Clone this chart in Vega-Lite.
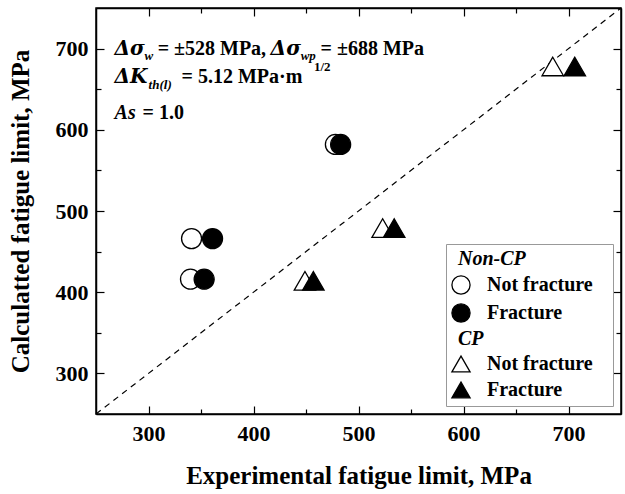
{
  "$schema": "https://vega.github.io/schema/vega-lite/v6.json",
  "width": 525,
  "height": 406,
  "autosize": {"type": "none"},
  "padding": {"left": 96, "top": 8, "right": 4, "bottom": 80},
  "background": "white",
  "config": {
    "view": {"stroke": "black", "strokeWidth": 1.5},
    "font": "Liberation Serif",
    "text": {"font": "Liberation Serif"},
    "axis": {
      "grid": false,
      "labelFont": "Liberation Serif",
      "labelFontSize": 22,
      "labelFontWeight": "bold",
      "labelColor": "black",
      "titleFont": "Liberation Serif",
      "titleFontSize": 25,
      "titleFontWeight": "bold",
      "titleColor": "black",
      "domainColor": "black",
      "domainWidth": 1.5,
      "tickColor": "black",
      "tickWidth": 1.2
    },
    "legend": {
      "labelFont": "Liberation Serif",
      "labelFontSize": 20,
      "labelFontWeight": "bold",
      "labelColor": "black"
    }
  },
  "datasets": {
    "points": [
      {"exp": 341, "calc": 466, "series": "Non-CP: Not fracture"},
      {"exp": 340, "calc": 416, "series": "Non-CP: Not fracture"},
      {"exp": 478, "calc": 582, "series": "Non-CP: Not fracture"},
      {"exp": 361, "calc": 466, "series": "Non-CP: Fracture"},
      {"exp": 353, "calc": 416, "series": "Non-CP: Fracture"},
      {"exp": 483, "calc": 582, "series": "Non-CP: Fracture"},
      {"exp": 449, "calc": 414, "series": "CP: Not fracture"},
      {"exp": 523, "calc": 479, "series": "CP: Not fracture"},
      {"exp": 685, "calc": 678, "series": "CP: Not fracture"},
      {"exp": 457, "calc": 414, "series": "CP: Fracture"},
      {"exp": 534, "calc": 479, "series": "CP: Fracture"},
      {"exp": 706, "calc": 678, "series": "CP: Fracture"}
    ]
  },
  "resolve": {"axis": {"x": "independent", "y": "independent"}},
  "layer": [
    {
      "data": {"values": [{}]},
      "mark": {"type": "rule", "strokeDash": [6, 5], "strokeWidth": 1.2, "color": "black"},
      "encoding": {
        "x": {"datum": 250, "type": "quantitative", "scale": {"domain": [250, 750], "nice": false, "zero": false},
          "axis": {"orient": "top", "values": [300, 350, 400, 450, 500, 550, 600, 650, 700], "labels": false, "title": null,
            "tickSize": {"condition": {"test": "datum.value % 100 === 0", "value": -8}, "value": -5}}},
        "y": {"datum": 250, "type": "quantitative", "scale": {"domain": [250, 750], "nice": false, "zero": false},
          "axis": {"orient": "right", "values": [300, 350, 400, 450, 500, 550, 600, 650, 700], "labels": false, "title": null,
            "tickSize": {"condition": {"test": "datum.value % 100 === 0", "value": -8}, "value": -5}}},
        "x2": {"datum": 750},
        "y2": {"datum": 750}
      }
    },
    {
      "data": {"name": "points"},
      "transform": [{"filter": "indexof(datum.series, 'Non-CP') === 0"}],
      "mark": {"type": "point", "filled": true, "stroke": "black", "strokeWidth": 1.3, "opacity": 1, "size": 400},
      "encoding": {
        "x": {"field": "exp", "type": "quantitative", "scale": {"domain": [250, 750], "nice": false, "zero": false},
          "axis": {"orient": "bottom", "values": [300, 350, 400, 450, 500, 550, 600, 650, 700],
            "labelExpr": "datum.value % 100 === 0 ? datum.label : ''",
            "tickSize": {"condition": {"test": "datum.value % 100 === 0", "value": -8}, "value": -5},
            "labelPadding": 17, "title": "Experimental fatigue limit, MPa", "titlePadding": 19}},
        "y": {"field": "calc", "type": "quantitative", "scale": {"domain": [250, 750], "nice": false, "zero": false},
          "axis": {"orient": "left", "values": [300, 350, 400, 450, 500, 550, 600, 650, 700],
            "labelExpr": "datum.value % 100 === 0 ? datum.label : ''",
            "tickSize": {"condition": {"test": "datum.value % 100 === 0", "value": -8}, "value": -5},
            "labelPadding": 16, "title": "Calculatted fatigue limit, MPa", "titlePadding": 22}},
        "fill": {"field": "series", "type": "nominal",
          "scale": {"domain": ["Non-CP", "Non-CP: Not fracture", "Non-CP: Fracture", "CP", "CP: Not fracture", "CP: Fracture"],
                    "range": ["white", "white", "black", "white", "white", "black"]},
          "legend": null},
        "shape": {"field": "series", "type": "nominal",
          "scale": {"domain": ["Non-CP", "Non-CP: Not fracture", "Non-CP: Fracture", "CP", "CP: Not fracture", "CP: Fracture"],
                    "range": ["M0,0", "circle", "circle", "M0,0", "triangle-up", "triangle-up"]},
          "legend": {"orient": "bottom-right", "offset": 8, "title": null, "padding": 5, "strokeColor": "#999999", "fillColor": "white",
            "symbolSize": 330, "symbolStrokeColor": "black", "symbolStrokeWidth": 1.3, "symbolOpacity": 1,
            "symbolFillColor": {"expr": "indexof(datum.value, 'Not') >= 0 ? 'white' : 'black'"},
            "labelFont": "Liberation Serif", "labelFontSize": 20, "labelFontWeight": "bold", "labelColor": "black",
            "labelFontStyle": {"expr": "indexof(datum.value, ':') < 0 ? 'italic' : 'normal'"},
            "labelOffset": {"expr": "indexof(datum.value, ':') < 0 ? -13 : 16"},
            "rowPadding": 4, "labelLimit": 300,
            "labelExpr": "indexof(datum.label, ': ') >= 0 ? split(datum.label, ': ')[1] + '\u00a0\u00a0\u00a0\u200b' : datum.label"}}
      }
    },
    {
      "data": {"name": "points"},
      "transform": [{"filter": "indexof(datum.series, 'CP') === 0"}],
      "mark": {"type": "point", "filled": true, "stroke": "black", "strokeWidth": 1.3, "opacity": 1, "size": 460},
      "encoding": {
        "x": {"field": "exp", "type": "quantitative", "scale": {"domain": [250, 750], "nice": false, "zero": false}, "axis": null},
        "y": {"field": "calc", "type": "quantitative", "scale": {"domain": [250, 750], "nice": false, "zero": false}, "axis": null},
        "fill": {"field": "series", "type": "nominal", "legend": null},
        "shape": {"field": "series", "type": "nominal"}
      }
    },
    {"data": {"values": [{}]}, "mark": {"type": "text", "text": "Δσ", "align": "left", "baseline": "alphabetic", "font": "DejaVu Serif", "fontSize": 20, "fontWeight": "bold", "fontStyle": "italic", "color": "black"},
     "encoding": {"x": {"datum": 267.7, "type": "quantitative", "scale": {"domain": [250, 750], "nice": false, "zero": false}, "axis": null}, "y": {"datum": 692, "type": "quantitative", "scale": {"domain": [250, 750], "nice": false, "zero": false}, "axis": null}}},
    {"data": {"values": [{}]}, "mark": {"type": "text", "text": "w", "align": "left", "baseline": "alphabetic", "font": "Liberation Serif", "fontSize": 13, "fontWeight": "bold", "fontStyle": "italic", "color": "black"},
     "encoding": {"x": {"datum": 296.3, "type": "quantitative", "scale": {"domain": [250, 750], "nice": false, "zero": false}, "axis": null}, "y": {"datum": 686, "type": "quantitative", "scale": {"domain": [250, 750], "nice": false, "zero": false}, "axis": null}}},
    {"data": {"values": [{}]}, "mark": {"type": "text", "text": "= ±528 MPa,", "align": "left", "baseline": "alphabetic", "font": "Liberation Serif", "fontSize": 20, "fontWeight": "bold", "color": "black"},
     "encoding": {"x": {"datum": 308.7, "type": "quantitative", "scale": {"domain": [250, 750], "nice": false, "zero": false}, "axis": null}, "y": {"datum": 692, "type": "quantitative", "scale": {"domain": [250, 750], "nice": false, "zero": false}, "axis": null}}},
    {"data": {"values": [{}]}, "mark": {"type": "text", "text": "Δσ", "align": "left", "baseline": "alphabetic", "font": "DejaVu Serif", "fontSize": 20, "fontWeight": "bold", "fontStyle": "italic", "color": "black"},
     "encoding": {"x": {"datum": 416.3, "type": "quantitative", "scale": {"domain": [250, 750], "nice": false, "zero": false}, "axis": null}, "y": {"datum": 692, "type": "quantitative", "scale": {"domain": [250, 750], "nice": false, "zero": false}, "axis": null}}},
    {"data": {"values": [{}]}, "mark": {"type": "text", "text": "wp", "align": "left", "baseline": "alphabetic", "font": "Liberation Serif", "fontSize": 13, "fontWeight": "bold", "fontStyle": "italic", "color": "black"},
     "encoding": {"x": {"datum": 444.9, "type": "quantitative", "scale": {"domain": [250, 750], "nice": false, "zero": false}, "axis": null}, "y": {"datum": 686, "type": "quantitative", "scale": {"domain": [250, 750], "nice": false, "zero": false}, "axis": null}}},
    {"data": {"values": [{}]}, "mark": {"type": "text", "text": "= ±688 MPa", "align": "left", "baseline": "alphabetic", "font": "Liberation Serif", "fontSize": 20, "fontWeight": "bold", "color": "black"},
     "encoding": {"x": {"datum": 463.9, "type": "quantitative", "scale": {"domain": [250, 750], "nice": false, "zero": false}, "axis": null}, "y": {"datum": 692, "type": "quantitative", "scale": {"domain": [250, 750], "nice": false, "zero": false}, "axis": null}}},
    {"data": {"values": [{}]}, "mark": {"type": "text", "text": "ΔK", "align": "left", "baseline": "alphabetic", "font": "DejaVu Serif", "fontSize": 20, "fontWeight": "bold", "fontStyle": "italic", "color": "black"},
     "encoding": {"x": {"datum": 267.7, "type": "quantitative", "scale": {"domain": [250, 750], "nice": false, "zero": false}, "axis": null}, "y": {"datum": 657.5, "type": "quantitative", "scale": {"domain": [250, 750], "nice": false, "zero": false}, "axis": null}}},
    {"data": {"values": [{}]}, "mark": {"type": "text", "text": "th(l)", "align": "left", "baseline": "alphabetic", "font": "Liberation Serif", "fontSize": 13, "fontWeight": "bold", "fontStyle": "italic", "color": "black"},
     "encoding": {"x": {"datum": 300.1, "type": "quantitative", "scale": {"domain": [250, 750], "nice": false, "zero": false}, "axis": null}, "y": {"datum": 650, "type": "quantitative", "scale": {"domain": [250, 750], "nice": false, "zero": false}, "axis": null}}},
    {"data": {"values": [{}]}, "mark": {"type": "text", "text": "= 5.12 MPa·m", "align": "left", "baseline": "alphabetic", "font": "Liberation Serif", "fontSize": 20, "fontWeight": "bold", "color": "black"},
     "encoding": {"x": {"datum": 331.5, "type": "quantitative", "scale": {"domain": [250, 750], "nice": false, "zero": false}, "axis": null}, "y": {"datum": 657.5, "type": "quantitative", "scale": {"domain": [250, 750], "nice": false, "zero": false}, "axis": null}}},
    {"data": {"values": [{}]}, "mark": {"type": "text", "text": "1/2", "align": "left", "baseline": "alphabetic", "font": "Liberation Serif", "fontSize": 13, "fontWeight": "bold", "color": "black"},
     "encoding": {"x": {"datum": 457.5, "type": "quantitative", "scale": {"domain": [250, 750], "nice": false, "zero": false}, "axis": null}, "y": {"datum": 673, "type": "quantitative", "scale": {"domain": [250, 750], "nice": false, "zero": false}, "axis": null}}},
    {"data": {"values": [{}]}, "mark": {"type": "text", "text": "As", "align": "left", "baseline": "alphabetic", "font": "Liberation Serif", "fontSize": 20, "fontWeight": "bold", "fontStyle": "italic", "color": "black"},
     "encoding": {"x": {"datum": 267.7, "type": "quantitative", "scale": {"domain": [250, 750], "nice": false, "zero": false}, "axis": null}, "y": {"datum": 613, "type": "quantitative", "scale": {"domain": [250, 750], "nice": false, "zero": false}, "axis": null}}},
    {"data": {"values": [{}]}, "mark": {"type": "text", "text": "= 1.0", "align": "left", "baseline": "alphabetic", "font": "Liberation Serif", "fontSize": 20, "fontWeight": "bold", "color": "black"},
     "encoding": {"x": {"datum": 294.4, "type": "quantitative", "scale": {"domain": [250, 750], "nice": false, "zero": false}, "axis": null}, "y": {"datum": 613, "type": "quantitative", "scale": {"domain": [250, 750], "nice": false, "zero": false}, "axis": null}}}
  ]
}
